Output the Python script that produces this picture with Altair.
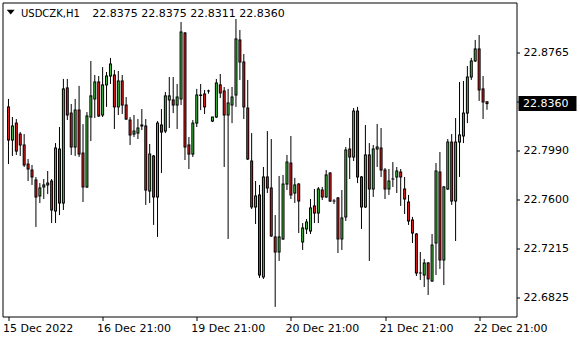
import altair as alt
import pandas as pd

symbol = "USDCZK,H1"
ohlc_text = "22.8375 22.8375 22.8311 22.8360"
last_price = 22.8360

opens = [22.8334, 22.8072, 22.8206, 22.8119, 22.8033, 22.7882, 22.7835, 22.7756, 22.7630, 22.7701,
         22.7732, 22.7748, 22.7511, 22.8001, 22.7574, 22.8484, 22.8285, 22.8017, 22.8309, 22.7969,
         22.7701, 22.8254, 22.8397, 22.8531, 22.8270, 22.8508, 22.8578, 22.8586, 22.8334, 22.8539,
         22.8349, 22.8230, 22.8119, 22.8127, 22.8191, 22.8183, 22.7669, 22.7946, 22.7622, 22.8191,
         22.8143, 22.8389, 22.8389, 22.8349, 22.8397, 22.8918, 22.8033, 22.7961, 22.8206, 22.8424,
         22.8436, 22.8460, 22.8222, 22.8254, 22.8508, 22.8460, 22.8270, 22.8349, 22.8428, 22.8863,
         22.8689, 22.8325, 22.7906, 22.7543, 22.7638, 22.6990, 22.7780, 22.7693, 22.7306, 22.7187,
         22.7290, 22.7724, 22.7890, 22.7653, 22.7724, 22.7266, 22.7369, 22.7353, 22.7551, 22.7495,
         22.7677, 22.7622, 22.7811, 22.7590, 22.7614, 22.7290, 22.7464, 22.8001, 22.7938, 22.8301,
         22.7780, 22.7543, 22.7954, 22.7685, 22.8001, 22.8009, 22.7835, 22.7685, 22.7764, 22.7780,
         22.7819, 22.7685, 22.7582, 22.7440, 22.7329, 22.7021, 22.7005, 22.7100, 22.6958, 22.7258,
         22.7819, 22.7124, 22.7685, 22.8056, 22.7590, 22.8056, 22.8104, 22.8285, 22.8570, 22.8697,
         22.8792, 22.8476, 22.8375]
highs = [22.8397, 22.8254, 22.8238, 22.8135, 22.8119, 22.7922, 22.7875, 22.7780, 22.7732, 22.7764,
         22.7827, 22.7764, 22.8048, 22.8175, 22.8555, 22.8555, 22.8357, 22.8397, 22.8500, 22.8198,
         22.8293, 22.8697, 22.8586, 22.8578, 22.8649, 22.8610, 22.8721, 22.8626, 22.8618, 22.8586,
         22.8412, 22.8254, 22.8270, 22.8238, 22.8317, 22.8238, 22.8041, 22.7954, 22.8222, 22.8317,
         22.8452, 22.8570, 22.8570, 22.8515, 22.9005, 22.8926, 22.8096, 22.8230, 22.8476, 22.8515,
         22.8468, 22.8470, 22.8254, 22.8555, 22.8594, 22.8491, 22.8476, 22.8491, 22.9029, 22.8942,
         22.8752, 22.8547, 22.8127, 22.7748, 22.7717, 22.7859, 22.8143, 22.8080, 22.7479, 22.7788,
         22.7796, 22.7954, 22.8104, 22.7772, 22.7732, 22.7416, 22.7448, 22.7606, 22.7685, 22.7701,
         22.7701, 22.7835, 22.7819, 22.7606, 22.7622, 22.7677, 22.8017, 22.8088, 22.8325, 22.8334,
         22.7788, 22.8191, 22.8048, 22.8033, 22.8199, 22.8167, 22.7851, 22.7843, 22.7898, 22.7859,
         22.7843, 22.7780, 22.7638, 22.7464, 22.7337, 22.7187, 22.7132, 22.7108, 22.7329, 22.7890,
         22.7977, 22.7709, 22.8080, 22.8119, 22.8246, 22.8531, 22.8539, 22.8657, 22.8721, 22.8863,
         22.8902, 22.8578, 22.8375]
lows = [22.7882, 22.7946, 22.7954, 22.7946, 22.7859, 22.7748, 22.7717, 22.7385, 22.7574, 22.7606,
        22.7645, 22.7416, 22.7416, 22.7479, 22.7519, 22.8230, 22.7954, 22.7946, 22.7938, 22.7582,
        22.7693, 22.8064, 22.8246, 22.8254, 22.8254, 22.8334, 22.8515, 22.8159, 22.8270, 22.8278,
        22.8230, 22.8033, 22.8096, 22.8080, 22.8151, 22.7559, 22.7574, 22.7401, 22.7306, 22.7811,
        22.8127, 22.8167, 22.8285, 22.8159, 22.8349, 22.7914, 22.7843, 22.7938, 22.8175, 22.8309,
        22.8278, 22.8439, 22.8214, 22.8246, 22.8404, 22.7859, 22.7290, 22.8206, 22.8334, 22.8547,
        22.8238, 22.7914, 22.7527, 22.7408, 22.6982, 22.6974, 22.7653, 22.7306, 22.6753, 22.7116,
        22.7282, 22.7677, 22.7606, 22.7574, 22.7337, 22.7203, 22.7329, 22.7329, 22.7416, 22.7416,
        22.7598, 22.7614, 22.7582, 22.7566, 22.7179, 22.7203, 22.7432, 22.7764, 22.7906, 22.7732,
        22.7369, 22.7535, 22.7116, 22.7622, 22.7859, 22.7780, 22.7606, 22.7638, 22.7701, 22.7653,
        22.7551, 22.7487, 22.7401, 22.7258, 22.6997, 22.6966, 22.6910, 22.6847, 22.6950, 22.7005,
        22.7053, 22.6926, 22.7677, 22.7559, 22.7274, 22.7780, 22.8048, 22.8206, 22.8547, 22.8689,
        22.8381, 22.8238, 22.8311]
closes = [22.8072, 22.8183, 22.7985, 22.8033, 22.7875, 22.7843, 22.7780, 22.7622, 22.7693, 22.7717,
          22.7717, 22.7519, 22.8009, 22.7574, 22.8476, 22.8270, 22.8017, 22.8309, 22.7961, 22.7701,
          22.8262, 22.8421, 22.8531, 22.8262, 22.8508, 22.8578, 22.8673, 22.8334, 22.8539, 22.8349,
          22.8238, 22.8112, 22.8143, 22.8167, 22.8183, 22.7677, 22.7961, 22.7622, 22.8206, 22.8135,
          22.8421, 22.8421, 22.8349, 22.8412, 22.8926, 22.8017, 22.7961, 22.8206, 22.8428, 22.8428,
          22.8334, 22.8460, 22.8254, 22.8523, 22.8444, 22.8270, 22.8365, 22.8412, 22.8871, 22.8689,
          22.8334, 22.7922, 22.7543, 22.7630, 22.7005, 22.7780, 22.7693, 22.7314, 22.7187, 22.7306,
          22.7724, 22.7898, 22.7638, 22.7717, 22.7590, 22.7377, 22.7424, 22.7535, 22.7495, 22.7685,
          22.7622, 22.7796, 22.7590, 22.7590, 22.7290, 22.7456, 22.7993, 22.7938, 22.8301, 22.7780,
          22.7543, 22.7954, 22.7685, 22.8001, 22.8017, 22.7835, 22.7685, 22.7748, 22.7764, 22.7827,
          22.7780, 22.7606, 22.7432, 22.7337, 22.7021, 22.7021, 22.7100, 22.6974, 22.7242, 22.7827,
          22.7124, 22.7701, 22.8056, 22.7590, 22.8056, 22.8112, 22.8285, 22.8570, 22.8697, 22.8792,
          22.8468, 22.8373, 22.8360]

time_tick_bars = [0, 24, 48, 72, 96, 120]
time_tick_labels = ["15 Dec 2022", "16 Dec 21:00", "19 Dec 21:00", "20 Dec 21:00",
                    "21 Dec 21:00", "22 Dec 21:00"]
price_ticks = [22.6825, 22.7215, 22.7600, 22.7990, 22.8375, 22.8765]
hidden_price_tick = 22.8375

GREEN = "#3fc13f"
RED = "#e41e1e"
FONT = "DejaVu Sans"

df = pd.DataFrame({
    "i": list(range(len(opens))),
    "open": opens, "high": highs, "low": lows, "close": closes,
})
df["top"] = df[["open", "close"]].max(axis=1)
df["bot"] = df[["open", "close"]].min(axis=1)
df["dir"] = ["up" if c >= o else "down" for o, c in zip(opens, closes)]

label_expr = "''"
for b, lab in reversed(list(zip(time_tick_bars, time_tick_labels))):
    label_expr = f"datum.value == {b} ? '{lab}' : ({label_expr})"

xscale = alt.Scale(domain=[-0.25, 128.25], nice=False, zero=False)
yscale = alt.Scale(domain=[22.66771, 22.91592], nice=False, zero=False)

xaxis = alt.Axis(values=time_tick_bars, labelExpr=label_expr, title=None, grid=False,
                 domain=False, tickSize=4, tickColor="black", labelAlign="left",
                 labelBaseline="top", labelPadding=2, labelOffset=-6, labelFont=FONT,
                 labelFontSize=11, labelColor="black", labelFlush=False, labelOverlap=False)
yaxis = alt.Axis(values=price_ticks, orient="right", title=None, grid=False, domain=False,
                 tickSize=3, tickColor="black", labelPadding=3.5, labelFont=FONT,
                 labelFontSize=11, labelColor="black", labelBaseline="middle",
                 labelExpr=f"datum.value == {hidden_price_tick} ? '' : format(datum.value, '.4f')",
                 labelOverlap=False, labelFlush=False)

base = alt.Chart(df)
X = alt.X("i:Q", scale=xscale, axis=xaxis)

wicks = base.mark_rule(color="black", strokeWidth=1).encode(
    x=X, y=alt.Y("high:Q", scale=yscale, axis=yaxis), y2="low:Q",
)

outer = base.mark_bar(width=3, color="black", yOffset=-0.5, y2Offset=0.5).encode(
    x=X, y=alt.Y("top:Q", scale=yscale, axis=yaxis), y2="bot:Q",
)

inner = base.transform_filter(alt.datum.top - alt.datum.bot >= 0.0012).mark_bar(
    width=1, yOffset=0.5, y2Offset=-0.5).encode(
    x=X, y=alt.Y("top:Q", scale=yscale, axis=yaxis), y2="bot:Q",
    color=alt.Color("dir:N", scale=alt.Scale(domain=["up", "down"], range=[GREEN, RED]),
                    legend=None),
)

box_df = pd.DataFrame({"p": [last_price], "top": [last_price + 0.0060],
                       "bot": [last_price - 0.0058], "t": [f"{last_price:.4f}"]})
price_box = alt.Chart(box_df).mark_rect(color="black").encode(
    x=alt.value(516), x2=alt.value(574),
    y=alt.Y("top:Q", scale=yscale, axis=yaxis), y2="bot:Q",
)
price_txt = alt.Chart(box_df).mark_text(align="left", baseline="middle", color="white",
                                        font=FONT, fontSize=11).encode(
    x=alt.value(520.5), y=alt.Y("p:Q", scale=yscale, axis=yaxis), text="t:N",
)

head_df = pd.DataFrame({"sym": [symbol], "vals": [ohlc_text]})
sym_txt = alt.Chart(head_df).mark_text(align="left", baseline="alphabetic", color="black",
                                       font=FONT, fontSize=10).encode(
    x=alt.value(18.5), y=alt.value(14.5), text="sym:N")
val_txt = alt.Chart(head_df).mark_text(align="left", baseline="alphabetic", color="black",
                                       font=FONT, fontSize=11).encode(
    x=alt.value(89.8), y=alt.value(14.5), text="vals:N")
tri = alt.Chart(head_df).mark_point(shape="M-1,-0.6L1,-0.6L0,0.6Z", filled=True,
                                    color="black", size=64, opacity=1).encode(
    x=alt.value(8.2), y=alt.value(9.7))

chart = alt.layer(wicks, outer, inner, price_box, price_txt, sym_txt, val_txt, tri).properties(
    width=514, height=314,
    autosize=alt.AutoSizeParams(type="none"),
    padding={"left": 2.5, "top": 2.5, "right": 63.5, "bottom": 23.5},
    background="white",
).configure_view(stroke="black", strokeWidth=1).resolve_scale(x="shared", y="shared")

chart.save("out.html", embed_options={"renderer": "svg", "actions": False})
